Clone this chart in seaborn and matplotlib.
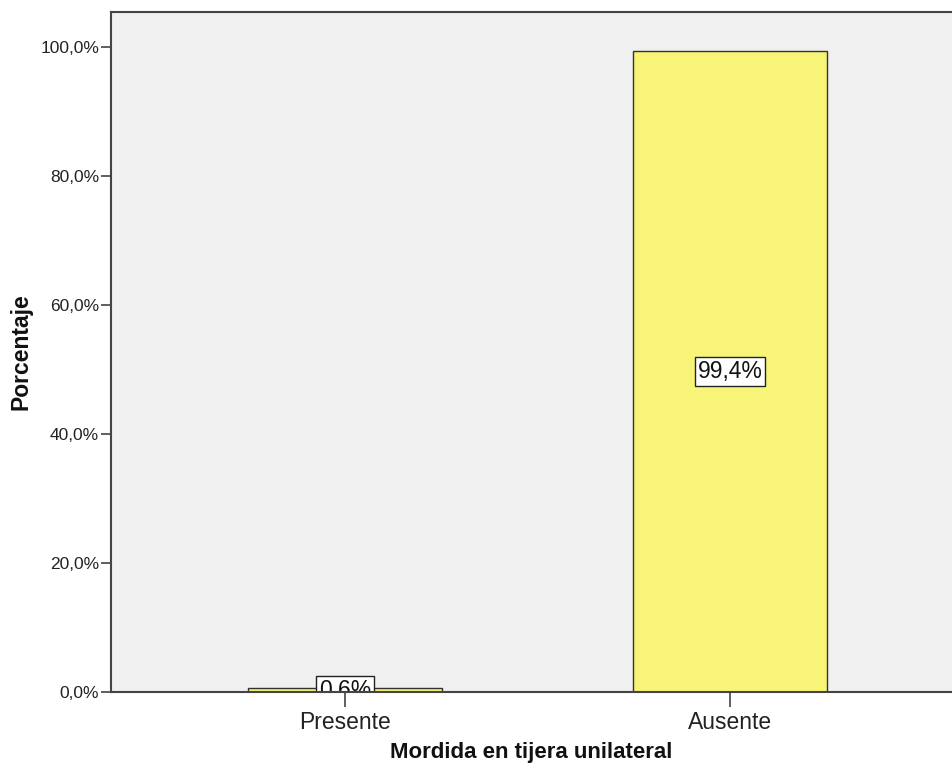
import matplotlib

matplotlib.use("Agg")
import matplotlib.pyplot as plt
import pandas as pd
import seaborn as sns
from matplotlib.ticker import FuncFormatter

categories = ["Presente", "Ausente"]
percentages = [0.6, 99.4]
y_ticks = [0, 20, 40, 60, 80, 100]

df = pd.DataFrame({"categoria": categories, "porcentaje": percentages})

sns.set_style("white")
plt.rcParams["font.family"] = ["Liberation Sans", "DejaVu Sans"]


def pct(v):
    return f"{v:.1f}%".replace(".", ",")


fig = plt.figure(figsize=(9.52, 7.71), dpi=100)
ax = fig.add_axes([111 / 952, 79 / 771, 1 - 111 / 952, 680 / 771])
ax.set_facecolor("#f0f0f0")

sns.barplot(data=df, x="categoria", y="porcentaje", order=categories,
            color="#f8f477", saturation=1, edgecolor="#333333",
            linewidth=1.0, width=0.506, ax=ax, zorder=2)

# value labels centred at half bar height, clipped by the axes like SPSS
for i, v in enumerate(percentages):
    ax.text(i, v / 2, pct(v), ha="center", va="center", fontsize=16.5,
            color="#111111", zorder=4, clip_on=True,
            bbox=dict(boxstyle="square,pad=0.12", facecolor="white",
                      edgecolor="#222222", linewidth=1.0))

ax.set_xlim(-0.608, 1.577)
ax.set_ylim(0, 105.4)
ax.set_yticks(y_ticks)
ax.yaxis.set_major_formatter(FuncFormatter(lambda v, _: pct(v)))

for side in ["top", "left", "bottom"]:
    ax.spines[side].set_visible(True)
    ax.spines[side].set_color("#444444")
    ax.spines[side].set_linewidth(1.5)
    ax.spines[side].set_zorder(5)
ax.spines["right"].set_visible(False)

ax.tick_params(axis="y", direction="out", length=7, width=1.2,
               color="#444444", labelsize=12.5, pad=1.5, left=True,
               labelcolor="#222222")
ax.tick_params(axis="x", direction="out", length=11, width=1.2,
               color="#444444", labelsize=16.5, pad=3, bottom=True,
               labelcolor="#222222")

ax.set_xlabel("Mordida en tijera unilateral", fontsize=16,
              fontweight="bold", color="#111111")
ax.set_ylabel("Porcentaje", fontsize=16.5, fontweight="bold",
              color="#111111")
ax.xaxis.set_label_coords(0.5, -0.074)
ax.yaxis.set_label_coords(-0.093, 0.5)

fig.savefig("out.png", dpi=100)
